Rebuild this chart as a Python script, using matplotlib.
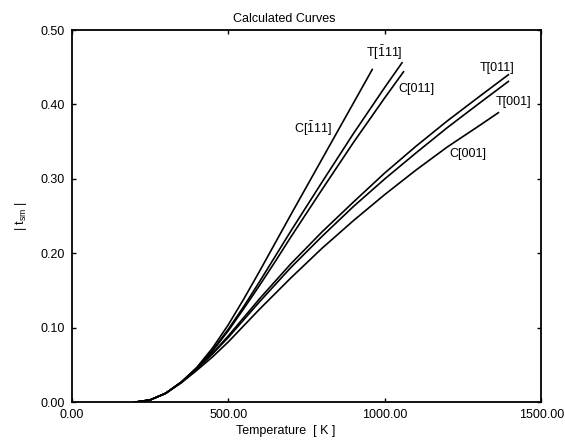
import matplotlib
matplotlib.use("Agg")
import matplotlib.pyplot as plt

plt.rcParams["font.family"] = ["Liberation Sans", "DejaVu Sans"]
plt.rcParams["mathtext.fontset"] = "custom"
plt.rcParams["mathtext.rm"] = "Liberation Sans"
plt.rcParams["mathtext.it"] = "Liberation Sans"
plt.rcParams["mathtext.default"] = "regular"

# temperatures [K] and |t_sm|
t_c111 = [200, 250, 300, 350, 400, 450, 500, 550, 600, 650, 700, 800, 900, 960]
c111 = [0.0, 0.003, 0.012, 0.027, 0.047, 0.073, 0.104, 0.139, 0.176, 0.214, 0.252, 0.327, 0.402, 0.447]

t_t111 = [200, 250, 300, 350, 400, 450, 500, 550, 600, 650, 700, 800, 900, 1000, 1055]
t111 = [0.0, 0.003, 0.012, 0.027, 0.046, 0.070, 0.098, 0.129, 0.162, 0.196, 0.230, 0.296, 0.361, 0.423, 0.456]

t_c011 = [200, 250, 300, 350, 400, 450, 500, 550, 600, 650, 700, 800, 900, 1000, 1060]
c011 = [0.0, 0.003, 0.012, 0.027, 0.046, 0.069, 0.096, 0.126, 0.157, 0.189, 0.222, 0.286, 0.349, 0.409, 0.444]

t_t011 = [200, 250, 300, 350, 400, 450, 500, 550, 600, 700, 800, 900, 1000, 1100, 1200, 1300, 1395]
t011 = [0.0, 0.003, 0.012, 0.027, 0.045, 0.066, 0.089, 0.114, 0.139, 0.186, 0.229, 0.269, 0.308, 0.344, 0.378, 0.410, 0.440]

t_t001 = [200, 250, 300, 350, 400, 450, 500, 550, 600, 700, 800, 900, 1000, 1100, 1200, 1300, 1395]
t001 = [0.0, 0.003, 0.012, 0.027, 0.045, 0.065, 0.087, 0.111, 0.135, 0.181, 0.223, 0.263, 0.300, 0.335, 0.369, 0.401, 0.431]

t_c001 = [200, 250, 300, 350, 400, 450, 500, 550, 600, 700, 800, 900, 1000, 1100, 1200, 1300, 1363]
c001 = [0.0, 0.003, 0.012, 0.026, 0.043, 0.061, 0.081, 0.103, 0.125, 0.167, 0.207, 0.244, 0.279, 0.312, 0.343, 0.371, 0.389]

curve_labels = [
    (r"C[$\bar{1}$11]", 770, 0.368),
    (r"T[$\bar{1}$11]", 1000, 0.470),
    ("C[011]", 1100, 0.421),
    ("T[011]", 1360, 0.449),
    ("T[001]", 1410, 0.403),
    ("C[001]", 1265, 0.334),
]

xticks = [0, 500, 1000, 1500]
yticks = [0.0, 0.1, 0.2, 0.3, 0.4, 0.5]

fig = plt.figure(figsize=(5.65, 4.42), dpi=100)
ax = fig.add_axes([0.127, 0.09, 0.831, 0.842])

for t, v in [(t_c111, c111), (t_t111, t111), (t_c011, c011),
             (t_t011, t011), (t_t001, t001), (t_c001, c001)]:
    ax.plot(t, v, color="black", lw=1.2)

for txt, x, y in curve_labels:
    ax.text(x, y, txt, fontsize=9, ha="center", va="center")

ax.set_xlim(0, 1500)
ax.set_ylim(0, 0.5)
ax.set_xticks(xticks)
ax.set_yticks(yticks)
ax.set_xticklabels([f"{v:.2f}" for v in xticks])
ax.set_yticklabels([f"{v:.2f}" for v in yticks])
ax.tick_params(direction="in", length=3, width=1, top=True, right=True,
               labelsize=9, pad=5)
for s in ax.spines.values():
    s.set_linewidth(1.3)

ax.set_title("Calculated Curves", fontsize=9, pad=6, x=0.453)
ax.set_xlabel("Temperature  [ K ]", fontsize=9, labelpad=3, x=0.455)
ax.set_ylabel(r"| t$_{sm}$ |", fontsize=9, labelpad=8)

fig.savefig("out.png", dpi=100)
